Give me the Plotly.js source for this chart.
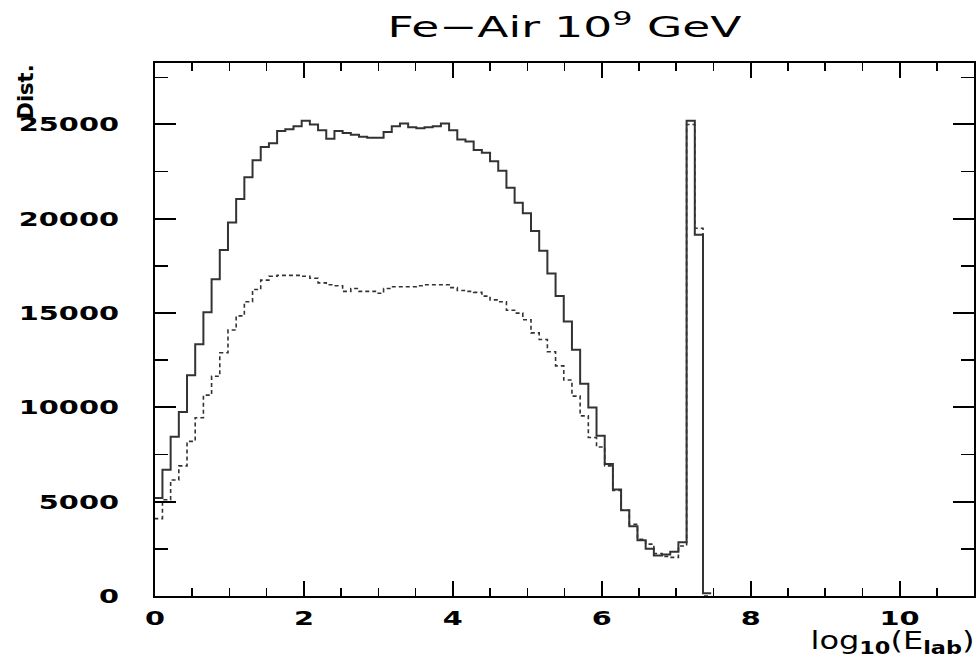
<!DOCTYPE html>
<html>
<head>
<meta charset="utf-8">
<script src="https://cdn.plot.ly/plotly-3.0.1.min.js"></script>
<style>
html,body{margin:0;padding:0;background:#fff;}
#chart{width:979px;height:661px;}
</style>
</head>
<body>
<div id="chart"></div>
<script>
// Histogram binning (log10 E_lab)
const binStart = -0.01;
const binWidth = 0.11;

// Solid histogram contents per bin
const solidCounts = [
  5200, 6700, 8450, 9750, 11700, 13350, 15050, 16800, 18350, 19800,
  21050, 22200, 23100, 23800, 24000, 24650, 24750, 24900, 25200, 25000,
  24700, 24250, 24650, 24550, 24450, 24350, 24300, 24300, 24600, 24900,
  25050, 24850, 24800, 24850, 24900, 25050, 24700, 24200, 24100, 23650,
  23500, 23050, 22550, 21650, 20850, 20300, 19350, 18300, 17100, 15900,
  14550, 13050, 11250, 10000, 8500, 7000, 5650, 4550, 3700, 2950,
  2500, 2150, 2200, 2350, 2850, 25200, 19150, 150
];

// Dotted histogram contents per bin
const dottedCounts = [
  4100, 5100, 6150, 6900, 8200, 9450, 10650, 11650, 12900, 14100,
  14850, 15600, 16250, 16750, 16950, 17000, 17000, 17000, 16950, 16850,
  16600, 16500, 16450, 16150, 16300, 16150, 16150, 16050, 16300, 16400,
  16400, 16400, 16450, 16500, 16500, 16500, 16350, 16200, 16150, 16100,
  15900, 15700, 15600, 15150, 15000, 14650, 13950, 13600, 12950, 12200,
  11450, 10600, 9550, 8400, 7900, 6900, 5600, 4550, 3800, 3000,
  2750, 2250, 2100, 2050, 2650, 25000, 19500, 0
];

const xTickVals = [0, 2, 4, 6, 8, 10];
const xTickText = ['0', '2', '4', '6', '8', '10'];
const yTickVals = [0, 5000, 10000, 15000, 20000, 25000];
const yTickText = ['0', '5000', '10000', '15000', '20000', '25000'];

function stepXY(vals) {
  const x = [], y = [];
  for (let i = 0; i < vals.length; i++) {
    x.push(binStart + binWidth * i);
    y.push(vals[i]);
  }
  x.push(binStart + binWidth * vals.length);
  y.push(vals[vals.length - 1]);
  return {x, y};
}

const s = stepXY(solidCounts);
const d = stepXY(dottedCounts);

const traces = [
  {x: d.x, y: d.y, mode: 'lines', line: {shape: 'hv', color: '#333', width: 1.6, dash: '4px,3px'}, hoverinfo: 'skip', showlegend: false},
  {x: s.x, y: s.y, mode: 'lines', line: {shape: 'hv', color: '#333', width: 2}, hoverinfo: 'skip', showlegend: false}
];

const tickFont = {family: 'DejaVu Sans', size: 20, weight: 'bold', color: '#000'};

const layout = {
  width: 979, height: 661,
  margin: {l: 155, r: 5, t: 63, b: 64.5, pad: 0},
  paper_bgcolor: '#fff', plot_bgcolor: '#fff',
  showlegend: false,
  title: {
    text: 'Fe\u2212Air 10<sup>9</sup> GeV',
    font: {family: 'DejaVu Sans', size: 29, color: '#000'},
    xref: 'paper', x: 0.5, xanchor: 'center',
    yref: 'container', y: 1 - 27 / 661, yanchor: 'middle'
  },
  xaxis: {
    range: [0, 11], autorange: false,
    showline: true, linecolor: '#000', linewidth: 2, mirror: 'ticks',
    ticks: 'inside', ticklen: 15, tickwidth: 2, tickcolor: '#000',
    tickmode: 'array', tickvals: xTickVals, ticktext: xTickText,
    minor: {dtick: 0.5, tick0: 0, ticks: 'inside', ticklen: 8, tickwidth: 1.5, tickcolor: '#000', showgrid: false},
    showgrid: false, zeroline: false,
    tickfont: tickFont, ticklabelstandoff: 3
  },
  yaxis: {
    range: [0, 28260], autorange: false,
    showline: true, linecolor: '#000', linewidth: 2, mirror: 'ticks',
    ticks: 'inside', ticklen: 21, tickwidth: 2, tickcolor: '#000',
    tickmode: 'array', tickvals: yTickVals, ticktext: yTickText,
    minor: {dtick: 2500, tick0: 0, ticks: 'inside', ticklen: 13, tickwidth: 1.5, tickcolor: '#000', showgrid: false},
    showgrid: false, zeroline: false,
    tickfont: tickFont, ticklabelstandoff: 30
  },
  annotations: [
    {
      text: 'log<sub><b>10</b></sub>(E<sub><b>lab</b></sub>)',
      xref: 'paper', yref: 'paper', x: 0.8999, y: -0.0553,
      xanchor: 'center', yanchor: 'top', showarrow: false,
      font: {family: 'DejaVu Sans', size: 24, color: '#000'}
    },
    {
      text: 'Dist.',
      xref: 'paper', yref: 'paper', x: -0.1587, y: 1,
      xanchor: 'center', yanchor: 'top', textangle: -90, showarrow: false,
      font: {family: 'DejaVu Sans', size: 21, weight: 'bold', color: '#000'}
    }
  ]
};

// Widen glyphs horizontally (the reference uses a very wide font)
function widen(el, target) {
  const w = el.getComputedTextLength();
  if (!w) return;
  el.setAttribute('textLength', target.toFixed(1));
  el.setAttribute('lengthAdjust', 'spacingAndGlyphs');
}

Plotly.newPlot('chart', traces, layout, {staticPlot: true, displayModeBar: false}).then(function () {
  document.querySelectorAll('#chart .xtick text, #chart .ytick text').forEach(function (t) {
    widen(t, t.getComputedTextLength() * 1.44);
  });
  const title = document.querySelector('#chart .gtitle');
  if (title) widen(title, 354);
  document.querySelectorAll('#chart .annotation-text').forEach(function (t) {
    if (t.textContent.indexOf('log') === 0) widen(t, 164);
  });
});
</script>
</body>
</html>
